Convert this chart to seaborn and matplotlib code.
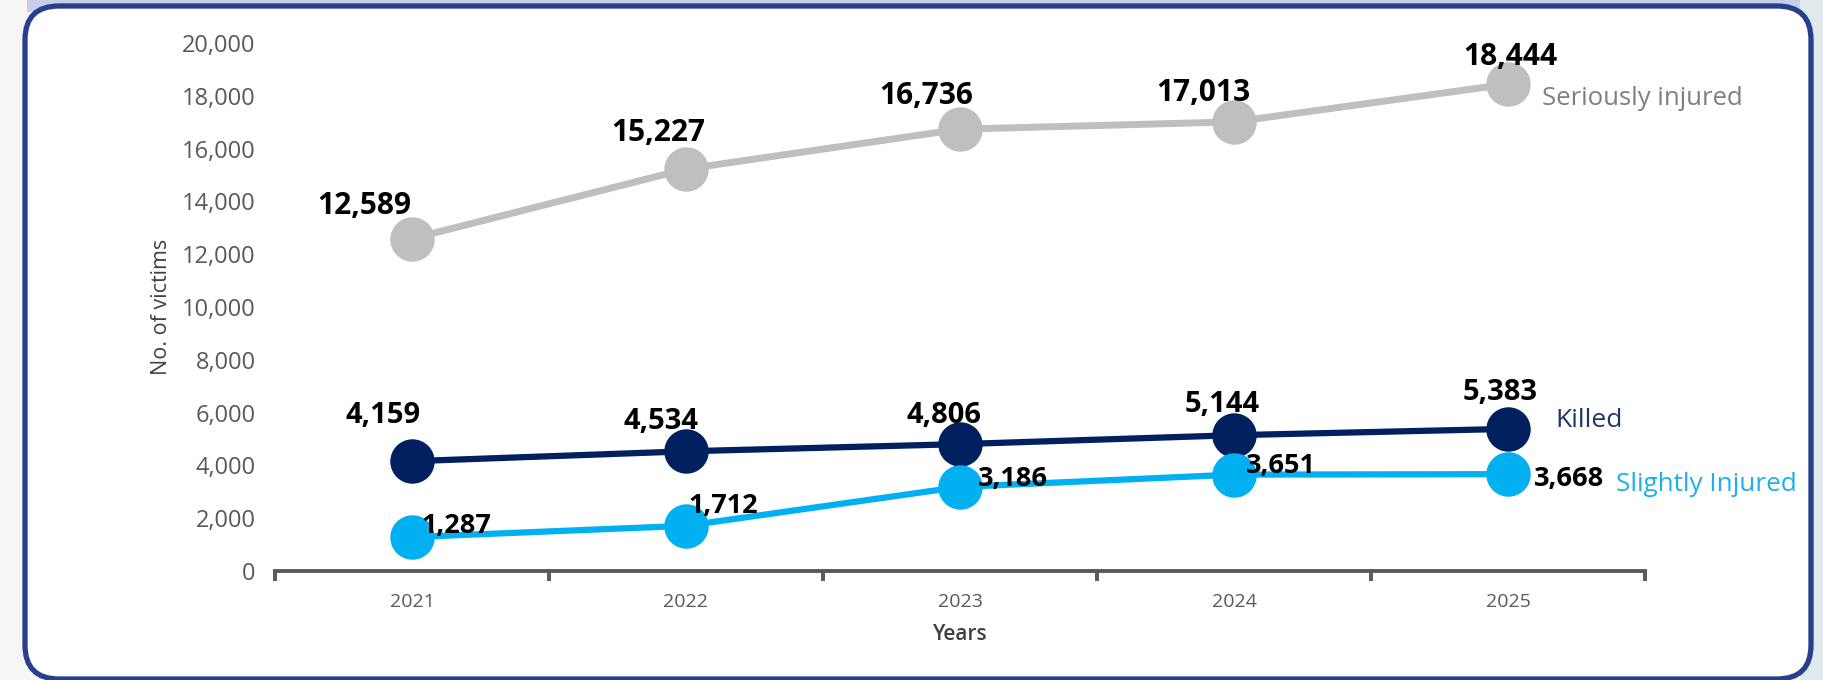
import numpy as np
import pandas as pd
import seaborn as sns
import matplotlib.pyplot as plt
from matplotlib.patches import FancyBboxPatch, Rectangle
from matplotlib.ticker import FuncFormatter, FixedLocator

# data
years = [2021, 2022, 2023, 2024, 2025]
seriously_injured = [12589, 15227, 16736, 17013, 18444]
killed = [4159, 4534, 4806, 5144, 5383]
slightly_injured = [1287, 1712, 3186, 3651, 3668]

sns.set_style("white")
plt.rcParams['font.family'] = ['Open Sans', 'DejaVu Sans']

fig = plt.figure(figsize=(18.23, 6.8), dpi=100)
fig.patch.set_facecolor('#f6f7f4')

# page background bits + rounded card (pixel coords)
fig.patches.append(Rectangle((27, 668), 1796, 12, transform=None, facecolor='#c6cee8', edgecolor='none', zorder=-3))
fig.patches.append(Rectangle((1800, 0), 23, 680, transform=None, facecolor='#e1e9ed', edgecolor='none', zorder=-3))
card = FancyBboxPatch((25, 1), 1786, 673, boxstyle="round,pad=0,rounding_size=34",
                      transform=None, facecolor='white', edgecolor='#26408e', linewidth=3.8, zorder=-2)
fig.patches.append(card)

ax = fig.add_axes([275 / 1823, (680 - 571) / 680, 1370 / 1823, 528 / 680])
ax.set_facecolor('none')

# name, values, line colour, name colour, label offsets (px), label size, name offset, name size, line width
series = [
    ("Seriously injured", seriously_injured, '#bfbfbf', '#7f7f7f',
     [(-48, 33), (-28, 36), (-34, 33), (-31, 29), (2, 27)], 21.5, (34, -14), 18.5, 5),
    ("Killed", killed, '#002060', '#1f3864',
     [(-29, 46), (-25, 30), (-16, 29), (-12, 31), (-8, 36)], 21, (47, 8), 19, 4.5),
    ("Slightly Injured", slightly_injured, '#00b0f0', '#1fb0e8',
     [(44, 11), (37, 20), (53, 8), (47, 9), (61, -5)], 19.5, (108, -10), 18.8, 4.5),
]

for name, vals, col, tcol, offs, fs, name_off, name_fs, lw in series:
    sns.lineplot(x=years, y=vals, color=col, linewidth=lw, marker='o', markersize=32,
                 markeredgewidth=0, ax=ax, clip_on=False)
    for x, v, (dx, dy) in zip(years, vals, offs):
        ax.annotate(f"{v:,}", (x, v), xytext=(dx, dy), textcoords='offset pixels',
                    ha='center', va='center', fontsize=fs, fontweight='bold', color='black',
                    annotation_clip=False)
    ax.annotate(name, (years[-1], vals[-1]), xytext=name_off, textcoords='offset pixels',
                ha='left', va='center', fontsize=name_fs, color=tcol, annotation_clip=False)

ax.set_xlim(2020.5, 2025.5)
ax.set_ylim(0, 20000)
ax.set_yticks(np.arange(0, 20001, 2000))
ax.yaxis.set_major_formatter(FuncFormatter(lambda v, p: f"{int(v):,}"))
ax.set_xticks(years)
ax.xaxis.set_minor_locator(FixedLocator(np.arange(2020.5, 2026, 1)))

for s in ['top', 'right', 'left']:
    ax.spines[s].set_visible(False)
ax.spines['bottom'].set_color('#595959')
ax.spines['bottom'].set_linewidth(2.8)

ax.tick_params(axis='y', length=0, pad=14, labelsize=17, labelcolor='#595959')
ax.tick_params(axis='x', which='major', length=0, pad=16, labelsize=14, labelcolor='#595959')
ax.tick_params(axis='x', which='minor', bottom=True, length=7, width=2.8, color='#595959', direction='out')

ax.set_ylabel("No. of victims", fontsize=15.5, color='#404040')
ax.yaxis.label.set_va('center')
ax.yaxis.set_label_coords(-0.083, 0.5)
ax.set_xlabel("Years", fontsize=15, color='#404040', fontweight='semibold')
ax.xaxis.set_label_coords(0.5, -0.121)
ax.xaxis.label.set_va('center')

fig.savefig('out.png', dpi=100, facecolor=fig.get_facecolor())
